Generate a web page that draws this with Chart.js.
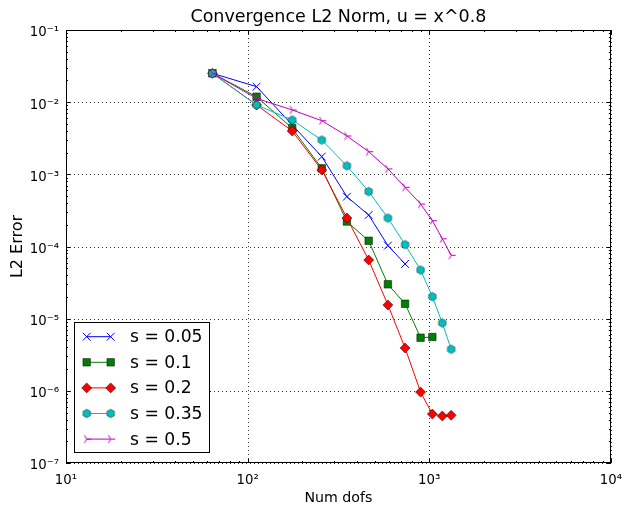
<!DOCTYPE html>
<html><head><meta charset="utf-8">
<script src="https://cdn.jsdelivr.net/npm/chart.js@4.4.0/dist/chart.umd.min.js"></script>
<style>html,body{margin:0;padding:0;background:#fff}#wrap{width:632px;height:511px}</style>
</head><body><div id="wrap"><canvas id="c" width="632" height="511"></canvas></div>
<script>
// ---- data ----
const dofs = [64, 112, 176, 256, 352, 464, 592, 736, 896, 1040, 1180, 1320];
const seriesLabels = ['s = 0.05', 's = 0.1', 's = 0.2', 's = 0.35', 's = 0.5'];
const err005 = [0.0251, 0.0164, 4.83e-3, 1.76e-3, 4.9e-4, 2.73e-4, 1.03e-4, 5.73e-5];
const err01  = [0.0251, 0.0119, 4.35e-3, 1.21e-3, 2.22e-4, 1.2e-4, 2.99e-5, 1.61e-5, 5.45e-6, 5.57e-6];
const err02  = [0.0251, 9.14e-3, 3.98e-3, 1.15e-3, 2.48e-4, 6.5e-5, 1.55e-5, 3.93e-6, 9.6e-7, 4.77e-7, 4.48e-7, 4.58e-7];
const err035 = [0.0251, 9.14e-3, 5.66e-3, 2.99e-3, 1.31e-3, 5.78e-4, 2.48e-4, 1.06e-4, 4.72e-5, 2.02e-5, 8.71e-6, 3.77e-6];
const err05  = [0.0251, 0.0113, 7.8e-3, 5.53e-3, 3.40e-3, 2.06e-3, 1.19e-3, 6.61e-4, 3.88e-4, 2.28e-4, 1.28e-4, 7.55e-5];
const xTickValues = [10, 100, 1000, 10000];
const xTickLabels = ['10\u00b9', '10\u00b2', '10\u00b3', '10\u2074'];
const yTickValues = [1e-7, 1e-6, 1e-5, 1e-4, 1e-3, 1e-2, 1e-1];
const yTickLabels = ['10\u207b\u2077', '10\u207b\u2076', '10\u207b\u2075', '10\u207b\u2074', '10\u207b\u00b3', '10\u207b\u00b2', '10\u207b\u00b9'];
const titleText = 'Convergence L2 Norm, u = x^0.8';
const xTitle = 'Num dofs';
const yTitle = 'L2 Error';

const FONT = 'DejaVu Sans';
const pts = arr => arr.map((y, i) => ({x: dofs[i], y}));

// ---- custom marker images ----
function hexImg(r, fill, stroke) {
  const s = Math.ceil(2 * r + 2);
  const c = document.createElement('canvas'); c.width = c.height = s;
  const g = c.getContext('2d');
  g.beginPath();
  for (let k = 0; k < 6; k++) {
    const a = -Math.PI / 2 + k * Math.PI / 3;
    const px = s / 2 + r * Math.cos(a), py = s / 2 + r * Math.sin(a);
    k ? g.lineTo(px, py) : g.moveTo(px, py);
  }
  g.closePath(); g.fillStyle = fill; g.fill();
  g.lineWidth = 0.7; g.strokeStyle = stroke; g.stroke();
  return c;
}
function triRightImg(r, color) {
  const s = Math.ceil(2 * r + 2);
  const c = document.createElement('canvas'); c.width = c.height = s;
  const g = c.getContext('2d');
  const cx = s / 2, cy = s / 2;
  g.strokeStyle = color; g.lineWidth = 1;
  g.beginPath();
  g.moveTo(cx, cy); g.lineTo(cx + r, cy);
  g.moveTo(cx, cy); g.lineTo(cx - r / 2, cy - r * 0.866);
  g.moveTo(cx, cy); g.lineTo(cx - r / 2, cy + r * 0.866);
  g.stroke();
  return c;
}
const hex = hexImg(4.3, '#00bfbf', 'rgba(0,0,0,0.6)');
const tri = triRightImg(4.5, '#bf00bf');

const styles = [
  {color: '#0000ff', pointStyle: 'crossRot', radius: 5.5, bg: '#0000ff', edge: '#0000ff', bw: 1},
  {color: '#008000', pointStyle: 'rect', radius: 5.3, bg: '#008000', edge: 'rgba(0,0,0,0.7)', bw: 0.7},
  {color: '#ff0000', pointStyle: 'rectRot', radius: 5, bg: '#ff0000', edge: 'rgba(0,0,0,0.7)', bw: 0.7},
  {color: '#00bfbf', pointStyle: hex, radius: 4.5, bg: '#00bfbf', edge: '#00bfbf', bw: 0},
  {color: '#bf00bf', pointStyle: tri, radius: 4.5, bg: '#bf00bf', edge: '#bf00bf', bw: 0}
];
const allSeries = [err005, err01, err02, err035, err05];

const datasets = allSeries.map((arr, i) => ({
  label: seriesLabels[i],
  data: pts(arr),
  borderColor: styles[i].color,
  borderWidth: 1,
  backgroundColor: styles[i].bg,
  pointStyle: styles[i].pointStyle,
  pointRadius: styles[i].radius,
  pointBackgroundColor: styles[i].bg,
  pointBorderColor: styles[i].edge,
  pointBorderWidth: styles[i].bw,
  tension: 0,
  fill: false,
  order: 5 - i
}));

function drawMarker(ctx, st, x, y) {
  ctx.save();
  ctx.fillStyle = st.bg; ctx.strokeStyle = st.edge; ctx.lineWidth = st.bw;
  const r = st.radius;
  const ps = st.pointStyle;
  if (typeof ps !== 'string') {
    ctx.drawImage(ps, x - ps.width / 2, y - ps.height / 2);
  } else if (ps === 'crossRot') {
    const o = r * Math.SQRT1_2;
    ctx.beginPath();
    ctx.moveTo(x - o, y - o); ctx.lineTo(x + o, y + o);
    ctx.moveTo(x - o, y + o); ctx.lineTo(x + o, y - o);
    ctx.stroke();
  } else if (ps === 'rect') {
    const h = r * Math.SQRT1_2;
    ctx.beginPath(); ctx.rect(x - h, y - h, 2 * h, 2 * h); ctx.fill(); if (st.bw) ctx.stroke();
  } else if (ps === 'rectRot') {
    ctx.beginPath();
    ctx.moveTo(x, y - r); ctx.lineTo(x + r, y); ctx.lineTo(x, y + r); ctx.lineTo(x - r, y);
    ctx.closePath(); ctx.fill(); if (st.bw) ctx.stroke();
  }
  ctx.restore();
}

const gridPlugin = {
  id: 'mplGrid',
  beforeDatasetsDraw(chart) {
    const {ctx, chartArea: a, scales: {x, y}} = chart;
    ctx.save();
    ctx.strokeStyle = '#333'; ctx.lineWidth = 1; ctx.setLineDash([1, 3]);
    xTickValues.forEach(v => {
      const px = Math.round(x.getPixelForValue(v)) + 0.5;
      ctx.beginPath(); ctx.moveTo(px, a.top); ctx.lineTo(px, a.bottom); ctx.stroke();
    });
    yTickValues.forEach(v => {
      const py = Math.round(y.getPixelForValue(v)) + 0.5;
      ctx.beginPath(); ctx.moveTo(a.left, py); ctx.lineTo(a.right, py); ctx.stroke();
    });
    ctx.restore();
  },
  afterDatasetsDraw(chart) {
    const {ctx, chartArea: a, scales: {x, y}} = chart;
    ctx.save();
    ctx.strokeStyle = '#000'; ctx.lineWidth = 1; ctx.setLineDash([]);
    ctx.beginPath();
    for (let d = 0; d < xTickValues.length; d++) {
      const base = xTickValues[d];
      for (let k = 1; k <= 9; k++) {
        const v = base * k; if (v > 10000 * 1.0001) break;
        const len = k === 1 ? 4 : 2;
        const px = Math.round(x.getPixelForValue(v)) + 0.5;
        ctx.moveTo(px, a.bottom); ctx.lineTo(px, a.bottom - len);
        ctx.moveTo(px, a.top); ctx.lineTo(px, a.top + len);
      }
    }
    for (let d = 0; d < yTickValues.length; d++) {
      const base = yTickValues[d];
      for (let k = 1; k <= 9; k++) {
        const v = base * k; if (v > 0.1 * 1.0001) break;
        const len = k === 1 ? 4 : 2;
        const py = Math.round(y.getPixelForValue(v)) + 0.5;
        ctx.moveTo(a.left, py); ctx.lineTo(a.left + len, py);
        ctx.moveTo(a.right, py); ctx.lineTo(a.right - len, py);
      }
    }
    ctx.stroke();
    ctx.strokeRect(Math.round(a.left) + 0.5, Math.round(a.top) + 0.5, Math.round(a.right - a.left) - 1, Math.round(a.bottom - a.top) - 1);
    ctx.restore();
  },
  afterDraw(chart) {
    const {ctx, chartArea: a} = chart;
    ctx.save();
    // title
    ctx.fillStyle = '#000';
    ctx.font = '17.5px "' + FONT + '"';
    ctx.textAlign = 'center'; ctx.textBaseline = 'middle';
    ctx.fillText(titleText, (a.left + a.right) / 2, 17);
    // legend
    const bx = Math.round(a.left) + 8, bw = 135, bh = 130;
    const by = Math.round(a.bottom) - 141;
    ctx.fillStyle = '#fff';
    ctx.fillRect(bx, by, bw, bh);
    ctx.strokeStyle = '#000'; ctx.lineWidth = 1;
    ctx.strokeRect(bx + 0.5, by + 0.5, bw, bh);
    ctx.font = '17.2px "' + FONT + '"';
    ctx.textAlign = 'left'; ctx.textBaseline = 'middle';
    seriesLabels.forEach((lab, i) => {
      const yy = by + 14.7 + i * 25.6;
      const x1 = bx + 12.7, x2 = bx + 36.7;
      ctx.strokeStyle = styles[i].color; ctx.lineWidth = 1;
      ctx.beginPath(); ctx.moveTo(x1, yy); ctx.lineTo(x2, yy); ctx.stroke();
      drawMarker(ctx, styles[i], x1, yy);
      drawMarker(ctx, styles[i], x2, yy);
      ctx.fillStyle = '#000';
      ctx.fillText(lab, bx + 56, yy + 1);
    });
    ctx.restore();
  }
};

new Chart(document.getElementById('c'), {
  type: 'line',
  data: {datasets},
  options: {
    responsive: false,
    animation: false,
    devicePixelRatio: 1,
    events: [],
    layout: {autoPadding: false, padding: {left: 0, right: 14, top: 30, bottom: 0}},
    plugins: {legend: {display: false}, tooltip: {enabled: false}, title: {display: false}},
    scales: {
      x: {
        type: 'logarithmic', min: 10, max: 10000,
        afterBuildTicks: s => { s.ticks = xTickValues.map(v => ({value: v})); },
        afterFit: s => { s.height = 48; },
        ticks: {callback: (v, i) => xTickLabels[i], color: '#000', font: {family: FONT, size: 13.3}, padding: 10, maxRotation: 0, autoSkip: false},
        grid: {display: false, drawTicks: false},
        border: {display: false},
        title: {display: true, text: xTitle, color: '#000', font: {family: FONT, size: 14.2}, padding: {top: 0, bottom: 4}}
      },
      y: {
        type: 'logarithmic', min: 1e-7, max: 1e-1,
        afterBuildTicks: s => { s.ticks = yTickValues.map(v => ({value: v})); },
        afterFit: s => { s.width = 66; },
        ticks: {callback: (v, i) => yTickLabels[i], color: '#000', font: {family: FONT, size: 13.3}, padding: 7, labelOffset: 3, autoSkip: false},
        grid: {display: false, drawTicks: false},
        border: {display: false},
        title: {display: true, text: yTitle, color: '#000', font: {family: FONT, size: 16}, padding: {top: 8, bottom: 0}}
      }
    }
  },
  plugins: [gridPlugin]
});
</script>
</body></html>
